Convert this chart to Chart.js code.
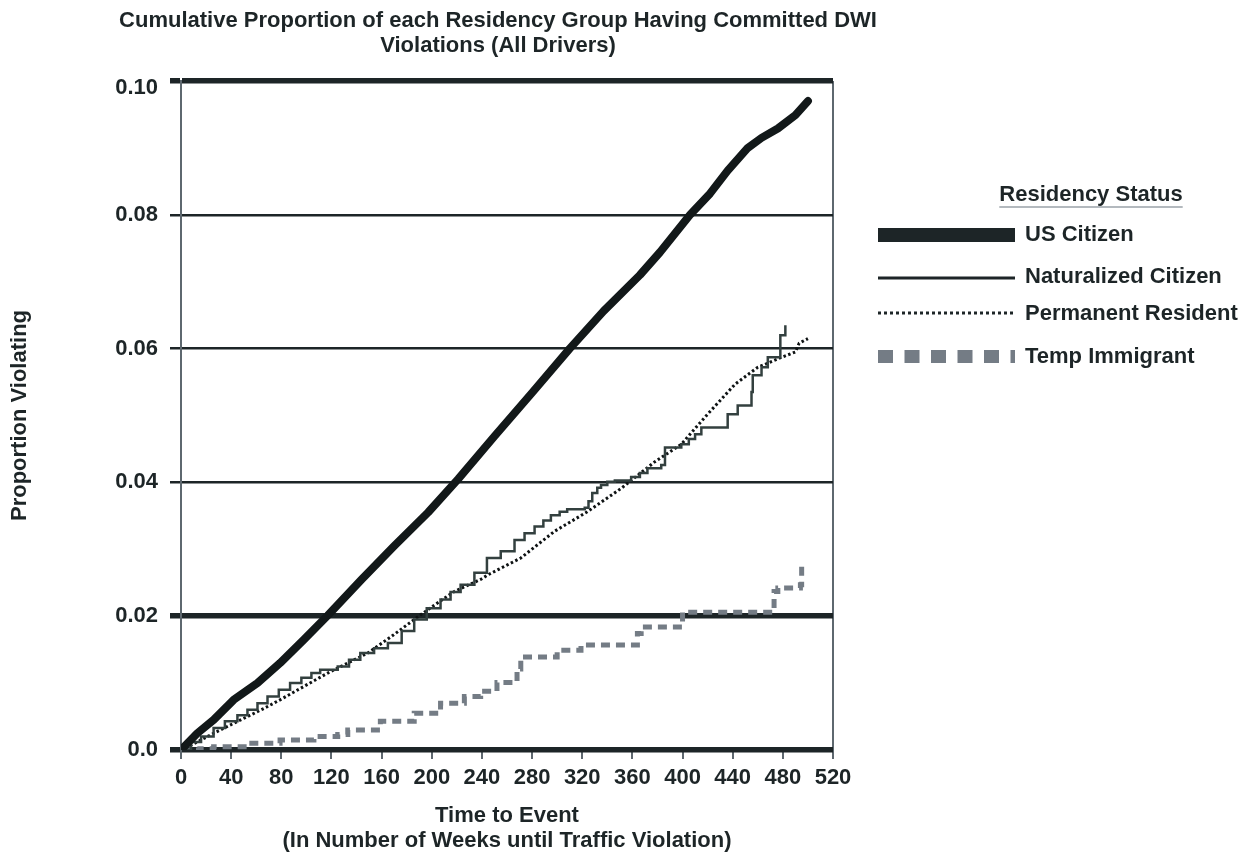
<!DOCTYPE html>
<html>
<head>
<meta charset="utf-8">
<script src="https://cdn.jsdelivr.net/npm/chart.js@4.4.1/dist/chart.umd.min.js"></script>
<style>
html,body{margin:0;padding:0;background:#ffffff;}
#wrap{width:1257px;height:864px;position:relative;}
</style>
</head>
<body>
<div id="wrap"><canvas id="c"></canvas></div>
<script>
// ---------- data ----------
const chartTitle = ['Cumulative Proportion of each Residency Group Having Committed DWI', 'Violations (All Drivers)'];
const xAxisTitle = ['Time to Event', '(In Number of Weeks until Traffic Violation)'];
const yAxisTitle = 'Proportion Violating';
const legendTitle = 'Residency Status';
const seriesNames = ['US Citizen', 'Naturalized Citizen', 'Permanent Resident', 'Temp Immigrant'];

const xTickValues = [0, 40, 80, 120, 160, 200, 240, 280, 320, 360, 400, 440, 480, 520];
const yTickValues = [0, 0.02, 0.04, 0.06, 0.08, 0.10];

const usWeeks  = [0, 13, 26, 42, 61, 79, 98, 117, 144, 170, 197, 221, 250, 280, 310, 337, 366, 382, 406, 422, 436, 452, 463, 476, 490, 500];
const usValues = [0, 0.0025, 0.0045, 0.0075, 0.010, 0.013, 0.0165, 0.0201, 0.0255, 0.0305, 0.0355, 0.0405, 0.0469, 0.0534, 0.060, 0.0656, 0.0710, 0.0744, 0.080, 0.0832, 0.0866, 0.0900, 0.0915, 0.0929, 0.0949, 0.0970];

const natWeeks  = [0, 8, 16, 26, 35, 45, 53, 61, 69, 78, 87, 96, 104, 111, 125, 134, 143, 154, 165, 176, 186, 196, 207, 215, 223, 234, 244, 255, 266, 274, 282, 289, 295, 302, 308, 322, 325, 328, 332, 335, 340, 346, 359, 366, 372, 383, 386, 399, 405, 410, 415, 436, 444, 455, 456, 463, 468, 478, 482];
const natValues = [0, 0.0012, 0.002, 0.0033, 0.0043, 0.0052, 0.006, 0.007, 0.008, 0.009, 0.010, 0.0108, 0.0115, 0.012, 0.0125, 0.0135, 0.0145, 0.0152, 0.016, 0.0178, 0.0195, 0.0212, 0.0225, 0.0236, 0.0247, 0.0265, 0.0287, 0.0297, 0.0314, 0.0324, 0.0334, 0.0343, 0.0351, 0.0356, 0.036, 0.0362, 0.0372, 0.0384, 0.0392, 0.0396, 0.0401, 0.0403, 0.0408, 0.0414, 0.0421, 0.0426, 0.0452, 0.0457, 0.0465, 0.0472, 0.0482, 0.0502, 0.0515, 0.0535, 0.056, 0.0572, 0.0587, 0.062, 0.0635];

const permWeeks  = [0, 13, 26, 40, 53, 66, 79, 98, 117, 133, 149, 168, 186, 197, 218, 239, 245, 271, 298, 324, 351, 378, 399, 420, 442, 460, 479, 490, 493, 500];
const permValues = [0, 0.0012, 0.0025, 0.0038, 0.005, 0.0062, 0.0075, 0.0095, 0.0115, 0.013, 0.0145, 0.017, 0.0195, 0.021, 0.0237, 0.0255, 0.0262, 0.0287, 0.0327, 0.0356, 0.0391, 0.0431, 0.0457, 0.0502, 0.0547, 0.0572, 0.0587, 0.0595, 0.0608, 0.0615];

const tempWeeks  = [0, 15, 26, 53, 79, 106, 125, 133, 159, 186, 207, 226, 239, 252, 268, 271, 300, 319, 364, 367, 400, 473, 476, 494, 495];
const tempValues = [0, 0.0002, 0.0005, 0.001, 0.0015, 0.002, 0.0023, 0.003, 0.0043, 0.0055, 0.007, 0.008, 0.0088, 0.0101, 0.0121, 0.0139, 0.0149, 0.0157, 0.0174, 0.0184, 0.0206, 0.0237, 0.0242, 0.0247, 0.0282];

// ---------- styling ----------
const FONT = "'Liberation Sans', Arial, Helvetica, sans-serif";
const INK = '#1d2527';
const AXISGRAY = '#5e686f';
const TEMPGRAY = '#747c85';

const toPoints = (xs, ys) => xs.map((x, i) => ({ x: x, y: ys[i] }));
const near = (a, b) => Math.abs(a - b) < 1e-9;
const isThick = v => near(v, 0) || near(v, 0.02) || near(v, 0.10);

const datasets = [
  { label: seriesNames[0], data: toPoints(usWeeks, usValues), borderColor: '#121819', borderWidth: 8,
    borderCapStyle: 'round', borderJoinStyle: 'round', pointRadius: 0, tension: 0 },
  { label: seriesNames[1], data: toPoints(natWeeks, natValues), borderColor: '#33403f', borderWidth: 2.5,
    stepped: 'before', pointRadius: 0 },
  { label: seriesNames[2], data: toPoints(permWeeks, permValues), borderColor: '#0e1213', borderWidth: 3,
    borderDash: [2.5, 2.5], pointRadius: 0, tension: 0 },
  { label: seriesNames[3], data: toPoints(tempWeeks, tempValues), borderColor: TEMPGRAY, borderWidth: 5,
    borderDash: [9, 6], stepped: 'before', pointRadius: 0 }
];

const titlePlugin = {
  id: 'centeredTitle',
  afterDraw(chart) {
    const ctx = chart.ctx;
    const cx = (chart.chartArea.left + chart.chartArea.right) / 2 - 9;
    ctx.save();
    ctx.font = 'bold 22px ' + FONT;
    ctx.fillStyle = INK;
    ctx.textAlign = 'center';
    ctx.textBaseline = 'middle';
    chartTitle.forEach((t, i) => ctx.fillText(t, cx, 21 + i * 25));
    ctx.restore();
  }
};

const legendPlugin = {
  id: 'residencyLegend',
  afterDraw(chart) {
    const ctx = chart.ctx;
    const x0 = chart.chartArea.right + 45;
    const x1 = x0 + 137;
    const tx = x1 + 10;
    ctx.save();
    ctx.font = 'bold 22px ' + FONT;
    ctx.fillStyle = INK;
    ctx.textBaseline = 'middle';
    // header
    ctx.textAlign = 'center';
    const hx = 1091, hy = 195;
    ctx.fillText(legendTitle, hx, hy);
    const hw = ctx.measureText(legendTitle).width;
    ctx.strokeStyle = '#9aa2a8';
    ctx.lineWidth = 1.5;
    ctx.beginPath();
    ctx.moveTo(hx - hw / 2, hy + 12);
    ctx.lineTo(hx + hw / 2, hy + 12);
    ctx.stroke();
    ctx.textAlign = 'left';
    const rows = [235, 277, 314, 357];
    // US Citizen sample
    ctx.fillStyle = INK;
    ctx.fillRect(x0, rows[0] - 7, x1 - x0, 14);
    // Naturalized sample
    ctx.strokeStyle = INK;
    ctx.lineWidth = 3;
    ctx.setLineDash([]);
    ctx.beginPath(); ctx.moveTo(x0, rows[1] + 1); ctx.lineTo(x1, rows[1] + 1); ctx.stroke();
    // Permanent sample
    ctx.setLineDash([3, 3]);
    ctx.beginPath(); ctx.moveTo(x0, rows[2] - 1); ctx.lineTo(x1, rows[2] - 1); ctx.stroke();
    ctx.setLineDash([]);
    // Temp sample
    ctx.fillStyle = TEMPGRAY;
    for (let x = x0; x < x1; x += 26.5) {
      ctx.fillRect(x, rows[3] - 7, Math.min(15, x1 - x), 13);
    }
    // labels
    ctx.fillStyle = INK;
    seriesNames.forEach((n, i) => ctx.fillText(n, tx, rows[i]));
    ctx.restore();
  }
};

new Chart(document.getElementById('c'), {
  type: 'line',
  data: { datasets: datasets },
  options: {
    responsive: true,
    maintainAspectRatio: false,
    animation: false,
    layout: { padding: { left: 0, right: 424, top: 81, bottom: 0 } },
    plugins: {
      legend: { display: false },
      tooltip: { enabled: false },
      title: { display: false }
    },
    scales: {
      x: {
        type: 'linear',
        min: 0, max: 520,
        afterFit: s => { s.height = 114; },
        afterBuildTicks: s => { s.ticks = xTickValues.map(v => ({ value: v })); },
        border: { display: false },
        grid: {
          drawOnChartArea: true,
          color: c => (c.tick && c.tick.value === 520) ? AXISGRAY : 'rgba(0,0,0,0)',
          lineWidth: 2,
          tickColor: AXISGRAY,
          tickWidth: 2,
          tickLength: 9
        },
        ticks: {
          autoSkip: false, maxRotation: 0, padding: 6,
          color: INK,
          font: { family: FONT, size: 22, weight: 'bold' },
          callback: v => String(v)
        },
        title: {
          display: true,
          text: xAxisTitle,
          color: INK,
          font: { family: FONT, size: 22, weight: 'bold', lineHeight: 1.15 },
          padding: { top: 0, bottom: 10 }
        }
      },
      y: {
        type: 'linear',
        min: 0, max: 0.10,
        afterFit: s => { s.width = 181; },
        afterBuildTicks: s => { s.ticks = yTickValues.map(v => ({ value: v })); },
        border: { display: true, color: AXISGRAY, width: 2 },
        grid: {
          color: INK,
          lineWidth: c => (c.tick && isThick(c.tick.value)) ? 5.5 : 2.5,
          tickColor: INK,
          tickWidth: c => (c.tick && isThick(c.tick.value)) ? 5.5 : 2.5,
          tickLength: 11
        },
        ticks: {
          padding: 12,
          color: INK,
          font: c => ({ family: FONT, size: 22, weight: 'bold',
                        lineHeight: (c.tick && near(c.tick.value, 0.10)) ? '14px' : 1.2 }),
          callback: v => near(v, 0) ? '0.0' : (near(v, 0.10) ? ['', '0.10'] : v.toFixed(2))
        },
        title: {
          display: true,
          text: yAxisTitle,
          color: INK,
          font: { family: FONT, size: 22, weight: 'bold', lineHeight: 1.2 },
          padding: { top: 7, bottom: 0 }
        }
      }
    }
  },
  plugins: [titlePlugin, legendPlugin]
});
</script>
</body>
</html>
